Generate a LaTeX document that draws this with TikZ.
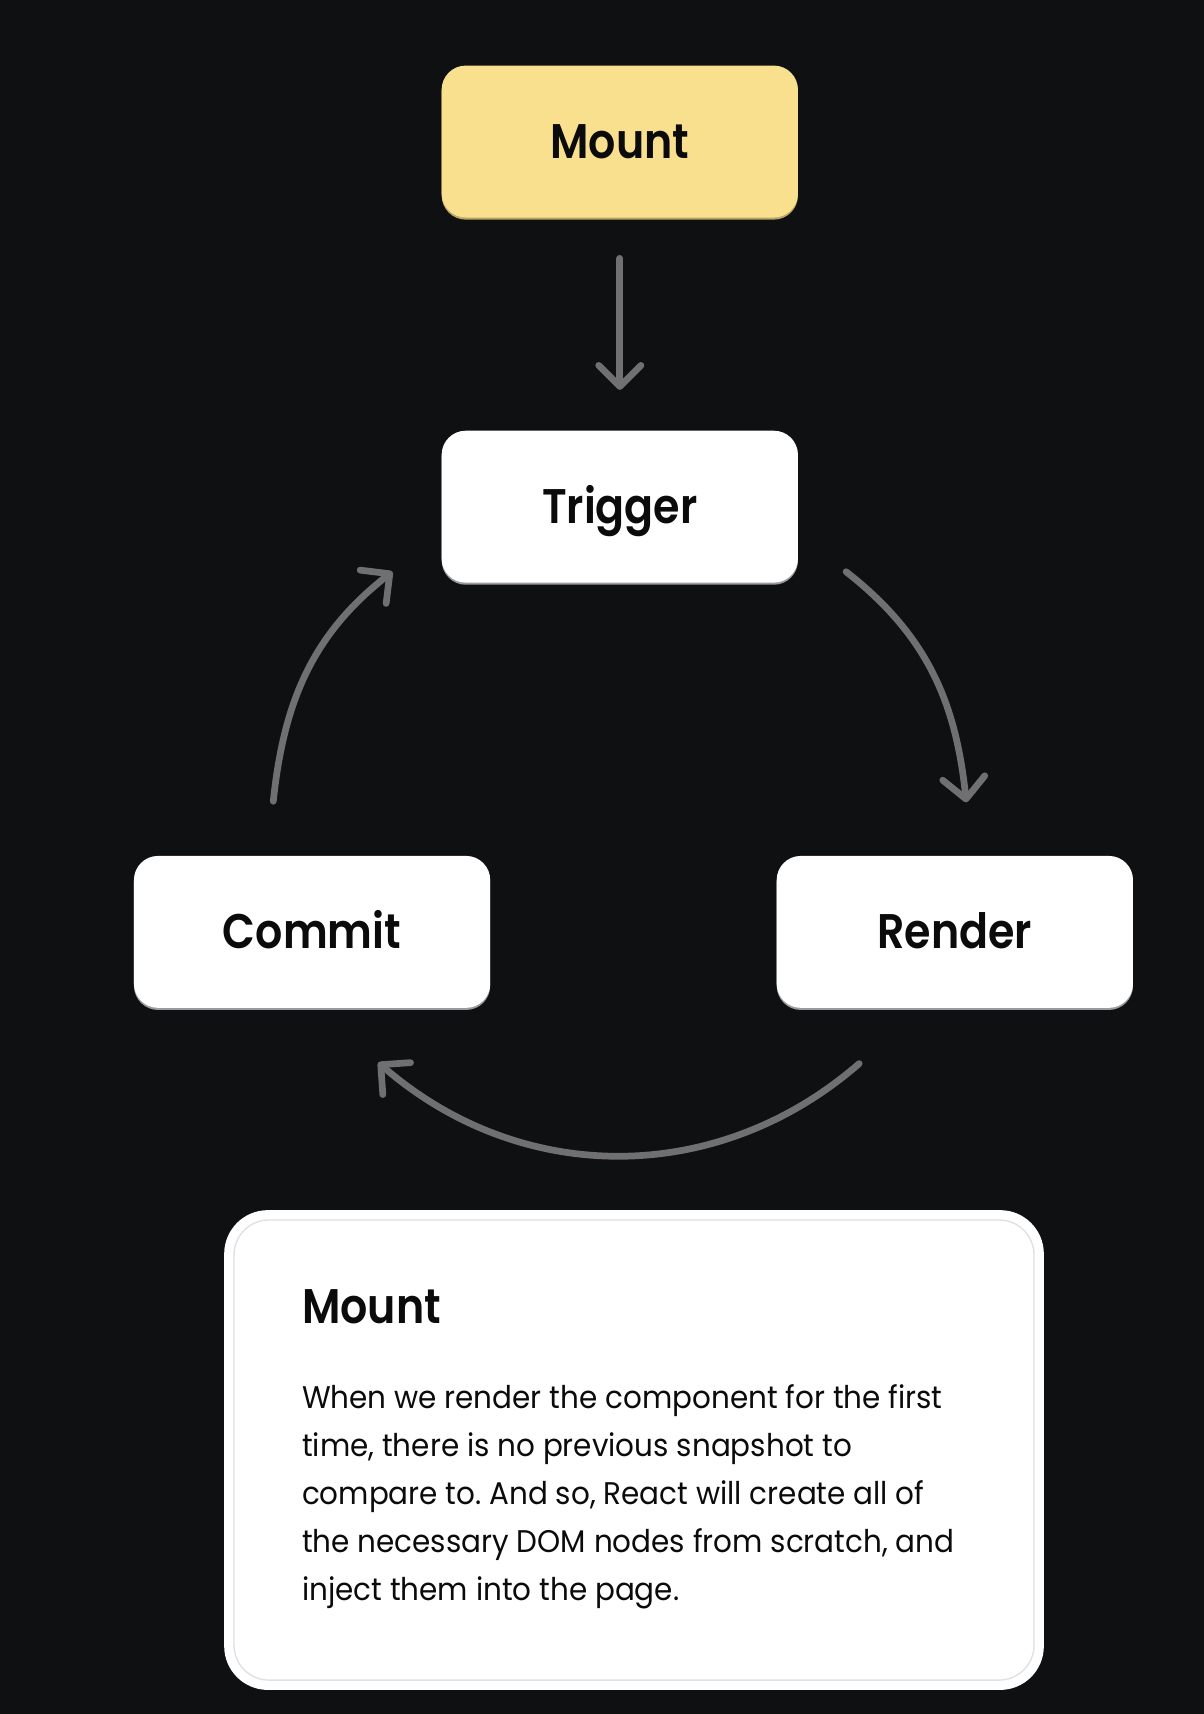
\documentclass[tikz,border=0pt]{standalone}
\usepackage{fontspec}
\setmainfont{Poppins}[FakeStretch=0.94]
\newfontfamily\semibold{Poppins SemiBold}[FakeStretch=0.88]
\usetikzlibrary{arrows.meta}
\definecolor{bg}{HTML}{0F1012}
\definecolor{arrowgray}{HTML}{707073}
\definecolor{mountyellow}{HTML}{F8E08E}
\definecolor{mountshadow}{HTML}{B9A562}
\definecolor{boxshadow}{HTML}{9A9A9E}
\definecolor{ink}{HTML}{0B0B0C}
\definecolor{cardedge}{HTML}{DDE1E6}
\frenchspacing
\begin{document}
\begin{tikzpicture}[x=0.02cm,y=0.02cm,
  box/.style={rounded corners=0.44cm, minimum width=6.52cm, minimum height=2.78cm,
    inner sep=0pt, text height=0.62cm, text depth=0pt,
    font=\semibold\fontsize{25.3}{30}\selectfont, text=ink},
  whitebox/.style={box, fill=white, preaction={fill=boxshadow, transform canvas={yshift=-1.1pt}}},
  yellowbox/.style={box, fill=mountyellow, preaction={fill=mountshadow, transform canvas={yshift=-1.1pt}}},
  conn/.style={draw=arrowgray, line width=3.5pt, line cap=round,
    -{Straight Barb[length=11pt, width=22pt, round]}},
  bodyline/.style={anchor=base west, inner sep=0pt, text=ink, font=\fontsize{16.3}{20}\selectfont},
  cardtitle/.style={anchor=base west, inner sep=0pt, text=ink, font=\semibold\fontsize{25.3}{30}\selectfont}
]
\fill[bg] (0,0) rectangle (1101,-1568);
\useasboundingbox (0,0) rectangle (1101,-1568);

% flow boxes
\node[yellowbox] (mount)   at (567,-129.5) {Mount};
\node[whitebox]  (trigger) at (567,-463.5) {Trigger};
\node[whitebox]  (commit)  at (285.5,-852.5) {Commit};
\node[whitebox]  (render)  at (873.5,-852.5) {Render};

% arc end points
\coordinate (trS) at (774,-523);
\coordinate (trE) at (884,-734);
\coordinate (rcS) at (786,-973);
\coordinate (rcE) at (346,-972);
\coordinate (ctS) at (250,-733);
\coordinate (ctE) at (359,-523);

% connectors
\draw[conn, shorten <=0.74cm, shorten >=0.74cm] (mount) -- (trigger);
\draw[conn] (trS) to[out=-38, in=96] (trE);
\draw[conn] (rcS) to[out=-139, in=-41] (rcE);
\draw[conn] (ctS) to[out=84, in=-142] (ctE);

% card
\node[fill=white, rounded corners=0.8cm, minimum width=15cm, minimum height=8.78cm, inner sep=0pt]
  (card) at (580,-1326.5) {};
\node[draw=cardedge, line width=0.7pt, rounded corners=0.64cm, minimum width=14.64cm,
  minimum height=8.42cm, inner sep=0pt] (cardin) at (580,-1326.5) {};
\node[cardtitle] (ctitle) at (276,-1211) {Mount};
\node[bodyline] (l1) at (276,-1288.5) {When we render the component for the first};
\node[bodyline] (l2) at (276,-1332.5) {time, there is no previous snapshot to};
\node[bodyline] (l3) at (276,-1376.5) {compare to. And so, React will create all of};
\node[bodyline] (l4) at (276,-1420.5) {the necessary DOM nodes from scratch, and};
\node[bodyline] (l5) at (276,-1464.5) {inject them into the page.};
\end{tikzpicture}
\end{document}
